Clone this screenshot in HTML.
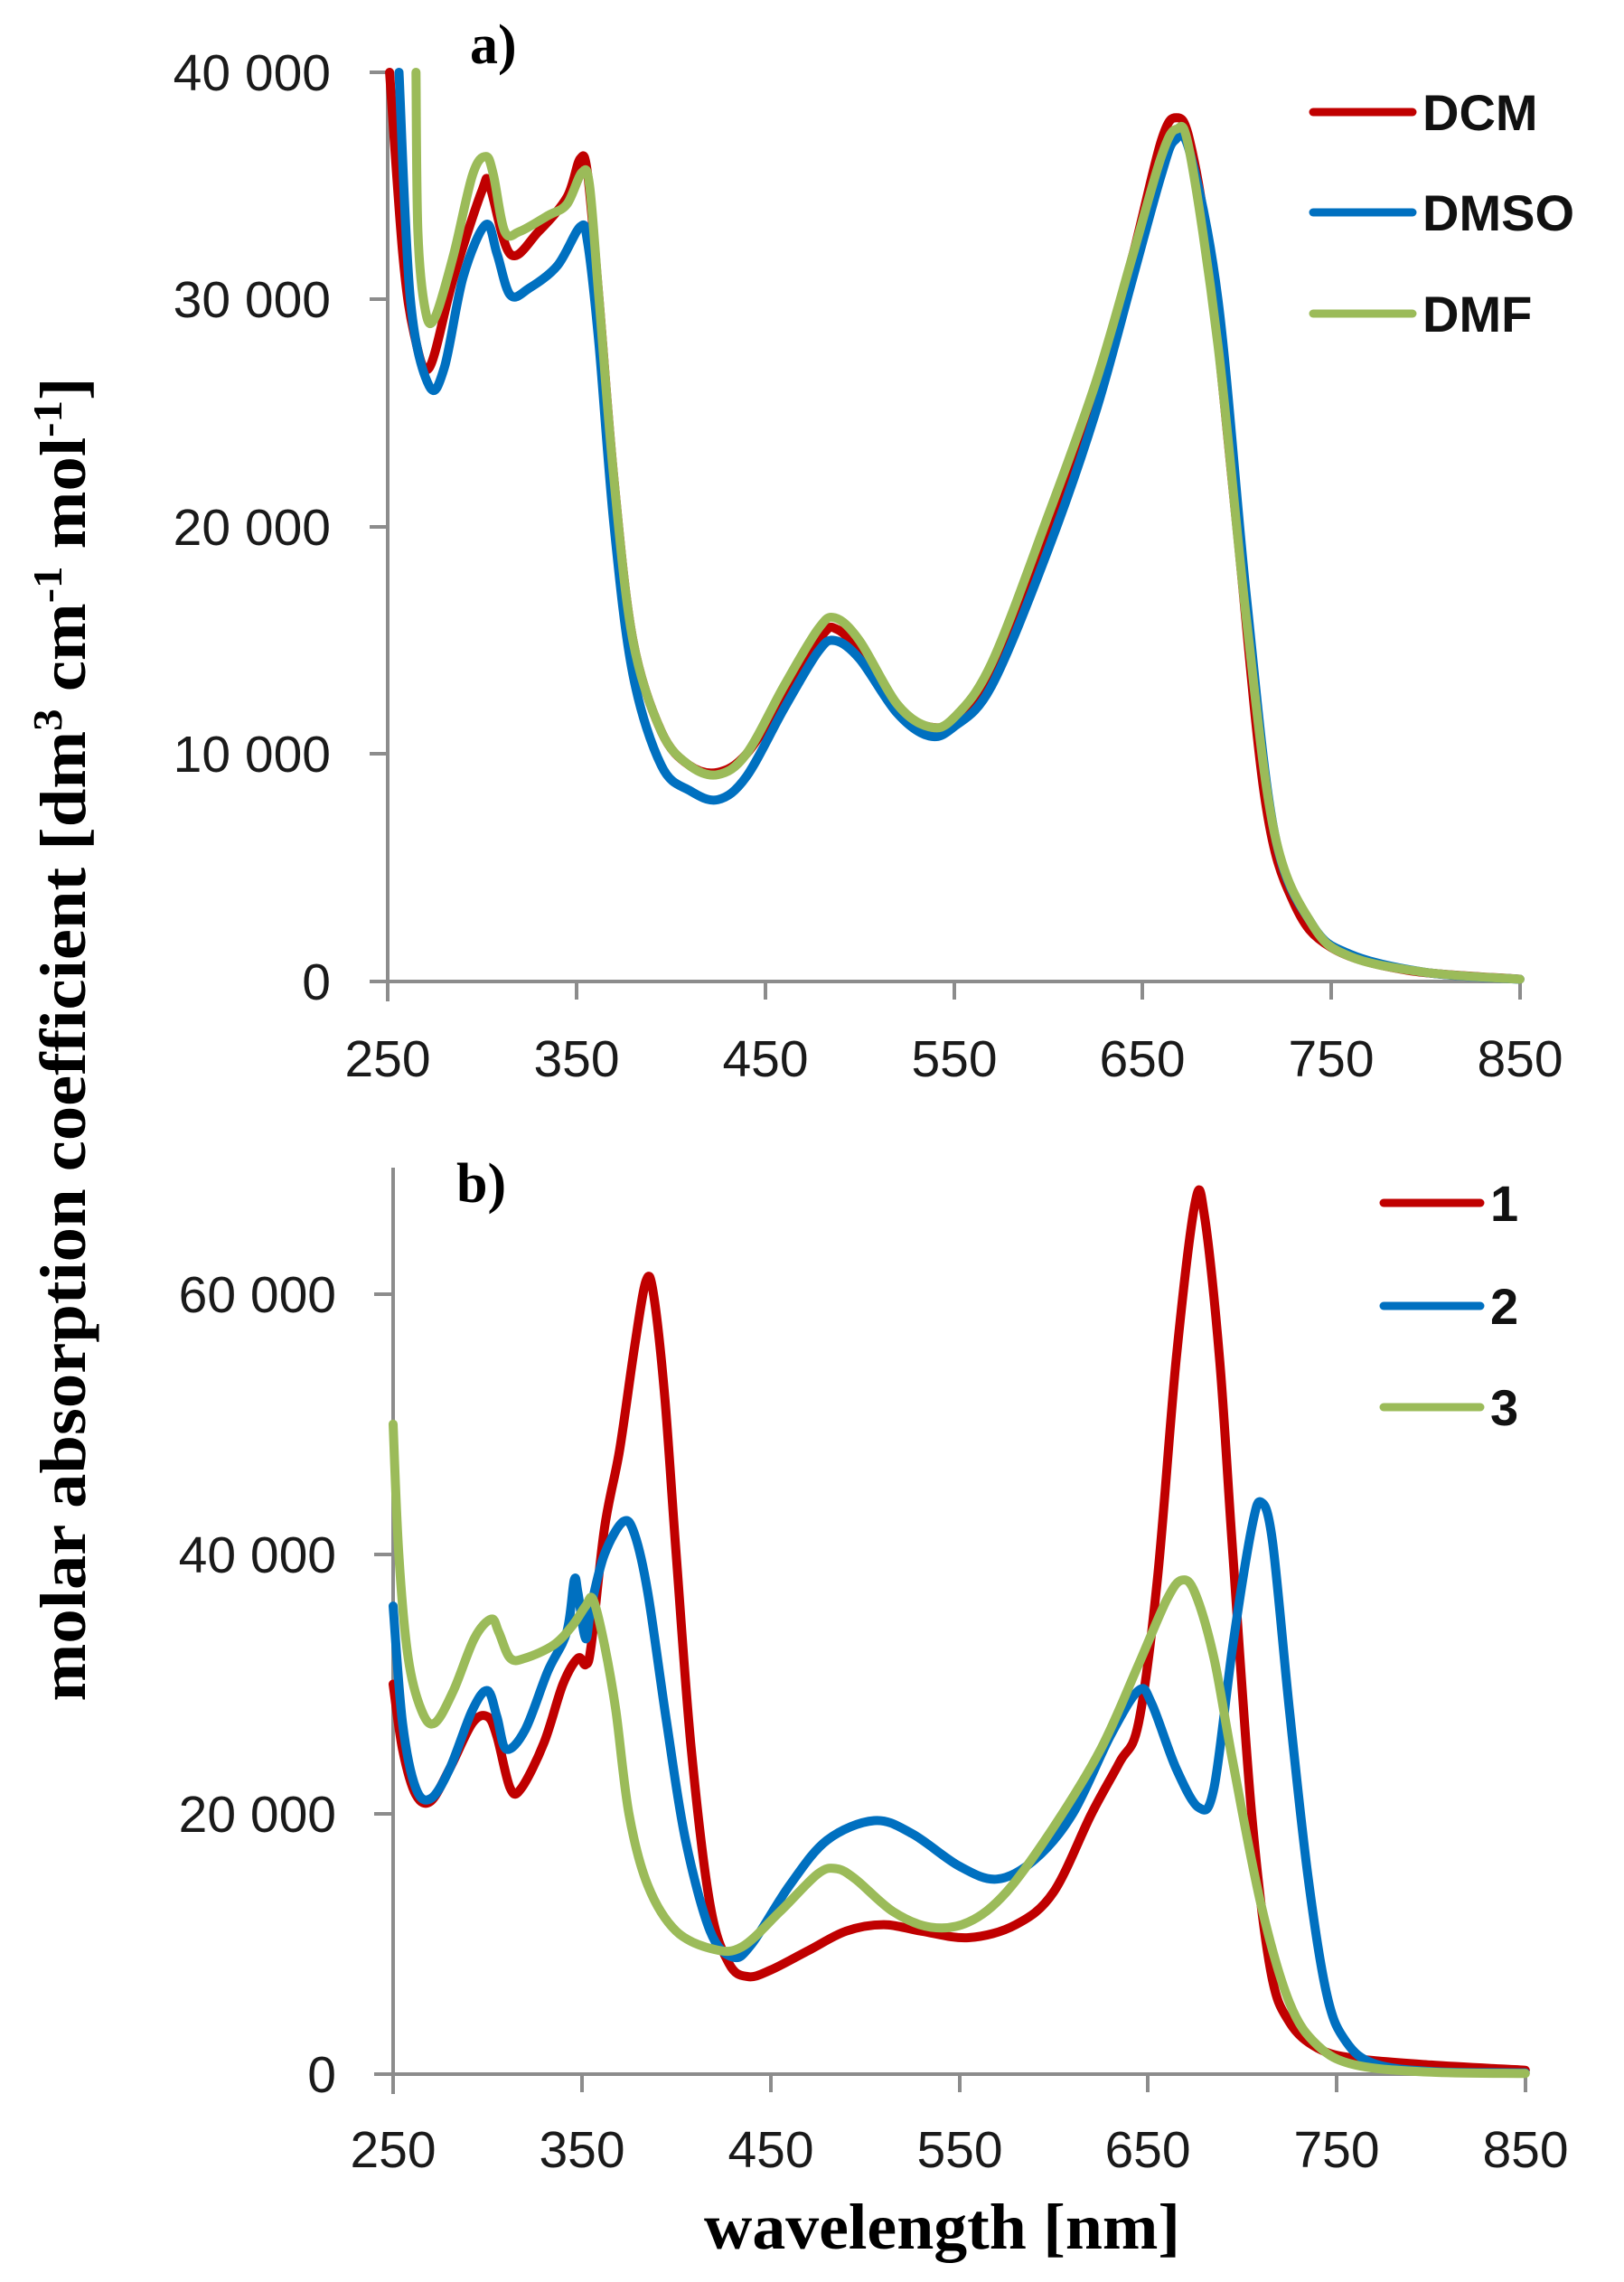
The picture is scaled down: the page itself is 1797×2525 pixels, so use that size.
<!DOCTYPE html>
<html><head><meta charset="utf-8"><style>html,body{margin:0;padding:0;background:#fff}svg{display:block}</style></head>
<body>
<svg id="s" xmlns="http://www.w3.org/2000/svg" width="1797" height="2525" viewBox="0 0 1797 2525">
<rect width="1797" height="2525" fill="#fff"/>
<g stroke="#8c8c8c" stroke-width="4" fill="none">
<!-- panel a axes -->
<line x1="429" y1="78" x2="429" y2="1108"/>
<line x1="409" y1="1086" x2="1684" y2="1086"/>
<line x1="409" y1="80" x2="429" y2="80"/><line x1="409" y1="331" x2="429" y2="331"/><line x1="409" y1="583" x2="429" y2="583"/><line x1="409" y1="834" x2="429" y2="834"/>
<line x1="638" y1="1086" x2="638" y2="1106"/><line x1="847" y1="1086" x2="847" y2="1106"/><line x1="1056" y1="1086" x2="1056" y2="1106"/><line x1="1264" y1="1086" x2="1264" y2="1106"/><line x1="1473" y1="1086" x2="1473" y2="1106"/><line x1="1682" y1="1086" x2="1682" y2="1106"/>
<!-- panel b axes -->
<line x1="435" y1="1292" x2="435" y2="2317"/>
<line x1="414" y1="2295" x2="1690" y2="2295"/>
<line x1="414" y1="1432" x2="435" y2="1432"/><line x1="414" y1="1720" x2="435" y2="1720"/><line x1="414" y1="2007" x2="435" y2="2007"/>
<line x1="644" y1="2295" x2="644" y2="2315"/><line x1="853" y1="2295" x2="853" y2="2315"/><line x1="1062" y1="2295" x2="1062" y2="2315"/><line x1="1270" y1="2295" x2="1270" y2="2315"/><line x1="1479" y1="2295" x2="1479" y2="2315"/><line x1="1688" y1="2295" x2="1688" y2="2315"/>
</g>
<g font-family="Liberation Sans, sans-serif" font-size="57" fill="#1a1a1a" text-anchor="end">
<text x="366" y="100">40 000</text><text x="366" y="351">30 000</text><text x="366" y="603">20 000</text><text x="366" y="854">10 000</text><text x="366" y="1106">0</text>
<text x="372" y="1452">60 000</text><text x="372" y="1740">40 000</text><text x="372" y="2027">20 000</text><text x="372" y="2315">0</text>
</g>
<g font-family="Liberation Sans, sans-serif" font-size="57" fill="#1a1a1a" text-anchor="middle">
<text x="429" y="1191">250</text><text x="638" y="1191">350</text><text x="847" y="1191">450</text><text x="1056" y="1191">550</text><text x="1264" y="1191">650</text><text x="1473" y="1191">750</text><text x="1682" y="1191">850</text>
<text x="435" y="2398">250</text><text x="644" y="2398">350</text><text x="853" y="2398">450</text><text x="1062" y="2398">550</text><text x="1270" y="2398">650</text><text x="1479" y="2398">750</text><text x="1688" y="2398">850</text>
</g>
<g font-family="Liberation Serif, serif" font-weight="bold" fill="#000">
<text x="520" y="70" font-size="62">a)</text>
<text x="505" y="1330" font-size="62">b)</text>
<text x="779" y="2488" font-size="72" textLength="527" lengthAdjust="spacingAndGlyphs">wavelength [nm]</text>
<text transform="translate(94,1150) rotate(-90)" text-anchor="middle" font-size="72" textLength="1465" lengthAdjust="spacingAndGlyphs">molar absorption coefficient [dm<tspan font-size="46" dy="-26">3</tspan><tspan dy="26"> cm</tspan><tspan font-size="46" dy="-26">-1</tspan><tspan dy="26"> mol</tspan><tspan font-size="46" dy="-26">-1</tspan><tspan dy="26">]</tspan></text>
</g>
<g stroke-width="9" stroke-linecap="round">
<line x1="1453" y1="124" x2="1563" y2="124" stroke="#c00000"/>
<line x1="1453" y1="235" x2="1563" y2="235" stroke="#0070c0"/>
<line x1="1453" y1="347" x2="1563" y2="347" stroke="#9bbb59"/>
<line x1="1531" y1="1331" x2="1638" y2="1331" stroke="#c00000"/>
<line x1="1531" y1="1445" x2="1638" y2="1445" stroke="#0070c0"/>
<line x1="1531" y1="1557" x2="1638" y2="1557" stroke="#9bbb59"/>
</g>
<g font-family="Liberation Sans, sans-serif" font-weight="bold" font-size="56" fill="#111">
<text x="1574" y="144">DCM</text><text x="1574" y="255">DMSO</text><text x="1574" y="367">DMF</text>
<text x="1649" y="1351">1</text><text x="1649" y="1465">2</text><text x="1649" y="1577">3</text>
</g>
<g id="curves" fill="none" stroke-width="10" stroke-linejoin="round" stroke-linecap="round"></g>
</svg>
<script>
var A={x0:429,sx:2.088,y0:1086,sy:251.5/10000};
var B={x0:435,sx:2.088,y0:2295,sy:287.7/20000};
function path(P,d){var pts=d.map(function(p){return [P.x0+(p[0]-250)*P.sx,P.y0-p[1]*P.sy];});
var s="M"+pts[0][0].toFixed(1)+" "+pts[0][1].toFixed(1);
for(var i=0;i<pts.length-1;i++){var p0=pts[i>0?i-1:i],p1=pts[i],p2=pts[i+1],p3=pts[i+2<pts.length?i+2:i+1];
var c1=[p1[0]+(p2[0]-p0[0])/6,p1[1]+(p2[1]-p0[1])/6],c2=[p2[0]-(p3[0]-p1[0])/6,p2[1]-(p3[1]-p1[1])/6];
s+="C"+c1[0].toFixed(1)+" "+c1[1].toFixed(1)+" "+c2[0].toFixed(1)+" "+c2[1].toFixed(1)+" "+p2[0].toFixed(1)+" "+p2[1].toFixed(1);}
return s;}
var g=document.getElementById("curves");
function add(P,d,c){var e=document.createElementNS("http://www.w3.org/2000/svg","path");e.setAttribute("d",path(P,d));e.setAttribute("stroke",c);g.appendChild(e);}
var dcm=[[251,40000],[258,32000],[264,28500],[272,27000],[285,31000],[300,34800],[304,35000],[315,32000],[330,33000],[345,34500],[352,36200],[356,35500],[362,30000],[370,22000],[380,15000],[395,11000],[410,9500],[425,9200],[440,10000],[460,12500],[480,15200],[488,15500],[500,14500],[520,12000],[537,11200],[550,11500],[570,13500],[600,20000],[625,26000],[645,32000],[660,37000],[668,38000],[675,37000],[685,32000],[700,20000],[715,8000],[730,3500],[750,1500],[790,500],[850,100]];
var dmso=[[256,40000],[262,30000],[272,26200],[280,27000],[290,31000],[302,33300],[308,32000],[315,30200],[325,30500],[340,31500],[352,33200],[356,32500],[362,28000],[370,20000],[380,13500],[395,9500],[410,8400],[425,8000],[440,9000],[460,12000],[478,14500],[487,15000],[500,14200],[520,11800],[537,10800],[550,11200],[570,13000],[600,19000],[625,25000],[645,31000],[660,35500],[667,37000],[675,36500],[690,30000],[705,17000],[720,6500],[740,2500],[760,1200],[800,400],[850,100]];
var dmf=[[265,40000],[266,33000],[270,29500],[275,29200],[285,32000],[295,35500],[302,36300],[306,35500],[312,33000],[320,33000],[335,33700],[345,34200],[353,35600],[357,35000],[362,30000],[370,22000],[380,15000],[395,11000],[410,9500],[425,9100],[440,10000],[460,13000],[478,15500],[487,16000],[500,15000],[520,12200],[537,11200],[550,11600],[570,14000],[600,20500],[625,26300],[645,32000],[660,36300],[668,37500],[675,36500],[690,28000],[705,16000],[720,6500],[740,2500],[760,1100],[800,400],[850,100]];
add(A,dcm,"#c00000");add(A,dmso,"#0070c0");add(A,dmf,"#9bbb59");
var c1=[[250,30000],[255,25000],[262,21500],[270,21000],[280,23500],[292,27000],[300,27500],[305,26000],[312,22000],[318,22000],[330,25500],[340,30000],[348,32000],[352,31500],[355,33000],[362,42000],[370,48000],[378,56000],[384,61000],[388,60000],[394,52000],[400,40000],[408,25000],[418,13000],[428,8500],[438,7500],[450,8000],[470,9500],[490,11000],[510,11500],[530,11000],[555,10500],[580,11500],[600,14000],[620,20000],[635,24000],[645,27000],[655,38000],[665,55000],[675,67000],[680,66000],[688,55000],[695,40000],[705,20000],[715,8000],[725,4000],[740,2000],[760,1200],[800,700],[850,300]];
var c2=[[250,36000],[255,27000],[262,22000],[270,21200],[280,23500],[292,28000],[300,29500],[305,27500],[310,25000],[320,26500],[332,31000],[342,34000],[346,38000],[348,37000],[352,33500],[355,36000],[362,40000],[372,42500],[378,41500],[385,37000],[395,27000],[405,18000],[418,11000],[430,9000],[440,10000],[460,14500],[480,18000],[505,19500],[525,18500],[550,16000],[570,15000],[590,16500],[610,20000],[630,26000],[645,29500],[652,28500],[665,23500],[677,20500],[685,22000],[695,33000],[705,42000],[710,44000],[716,41000],[725,28000],[735,15000],[745,6000],[755,2500],[770,800],[800,200],[850,100]];
var c3=[[250,50000],[253,40000],[258,32000],[265,28000],[272,27000],[282,29500],[293,33500],[302,35000],[306,34000],[312,32000],[320,32000],[335,33000],[345,34500],[352,36000],[356,36500],[362,33000],[368,28000],[375,20000],[385,14500],[400,11000],[420,9600],[435,9800],[455,12500],[475,15400],[485,15800],[495,15000],[515,12500],[535,11300],[555,11700],[575,14000],[600,19000],[625,25000],[645,31500],[660,36500],[668,38000],[675,37000],[685,32000],[695,24000],[710,13000],[725,5500],[740,2200],[760,700],[800,150],[850,50]];
add(B,c1,"#c00000");add(B,c2,"#0070c0");add(B,c3,"#9bbb59");
</script>
</body></html>
